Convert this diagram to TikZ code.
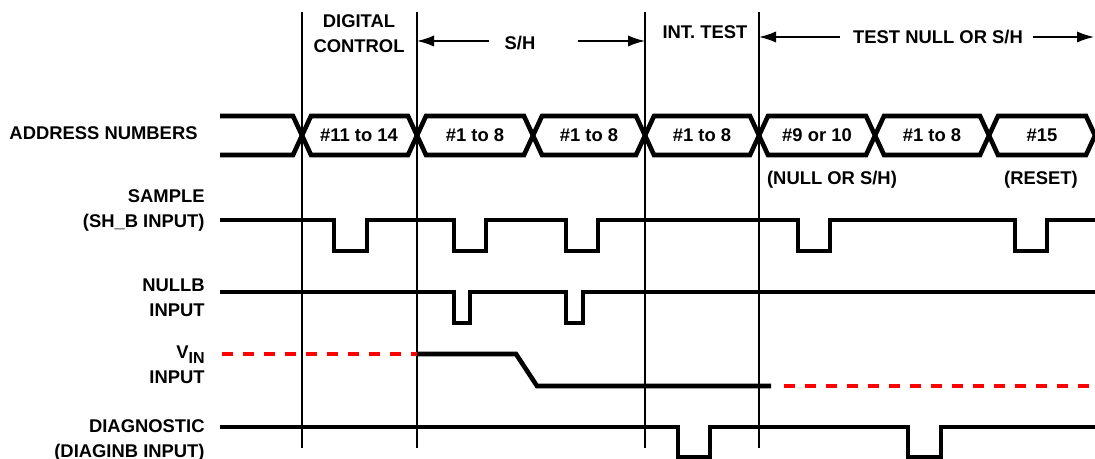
\documentclass[tikz,border=0pt]{standalone}
\usepackage{fontspec}
\setmainfont{Liberation Sans}
\usetikzlibrary{arrows.meta, positioning}

\tikzset{
  lbl/.style={font=\fontsize{9.2}{12.5}\selectfont\bfseries, inner sep=0pt},
  sig/.style={line width=2.3pt, line join=miter},
  divider/.style={line width=0.75pt},
  hdrarrow/.style={line width=0.8pt, -{Latex[length=8.5pt,width=5.6pt]}},
  undef/.style={line width=2.3pt, red, dash pattern=on 5.5pt off 5pt},
}

\begin{document}
\begin{tikzpicture}[x=0.5pt,y=-0.5pt]
\useasboundingbox (0,0) rectangle (1095,459);
%Phase dividers:
\foreach \n/\x in {1/302,2/417,3/645,4/759} {
  \coordinate (v\n t) at (\x,12);
  \coordinate (v\n b) at (\x,448);
  \draw[divider] (v\n t) -- (v\n b);
}
%Phase headings:
\node (digctl) [lbl, align=center] at (359,34) {DIGITAL\\CONTROL};
\node (sh) [lbl] at (520,43) {S/H};
\node (inttest) [lbl] at (705,32) {INT. TEST};
\node (tnull) [lbl] at (938,37) {TEST NULL OR S/H};
\coordinate (shl) at (489,41);
\coordinate (shr) at (578,41);
\coordinate (tnl) at (840,37);
\coordinate (tnr) at (1033,37);
\coordinate (edge) at (1094,37);
\draw[hdrarrow] (shl) -- (v2t |- shl);
\draw[hdrarrow] (shr) -- (v3t |- shr);
\draw[hdrarrow] (tnl) -- (v4t |- tnl);
\draw[hdrarrow] (tnr) -- (edge);
%Row labels:
\node (addrlbl) [lbl, anchor=east] at (198,133) {ADDRESS NUMBERS};
\node (samplbl) [lbl, anchor=east, align=right] at (205,210) {SAMPLE\\(SH\_B INPUT)};
\node (nulllbl) [lbl, anchor=east, align=right] at (205,298) {NULLB\\INPUT};
\node (vinlbl) [lbl, anchor=east, align=right] at (205,365) {V\raisebox{-0.45ex}{\fontsize{8}{8}\selectfont IN}\\INPUT};
\node (diaglbl) [lbl, anchor=east, align=right] at (205,440) {DIAGNOSTIC\\(DIAGINB INPUT)};
%Address bus:
\draw[sig] (220,116) -- (293,116) -- (311,155) -- (408,155) -- (426,116) -- (524,116) -- (542,155)
  -- (636,155) -- (654,116) -- (750,116) -- (768,155) -- (866,155) -- (884,116) -- (980,116)
  -- (998,155) -- (1086,155) -- (1104,116);
\draw[sig] (220,155) -- (293,155) -- (311,116) -- (408,116) -- (426,155) -- (524,155) -- (542,116)
  -- (636,116) -- (654,155) -- (750,155) -- (768,116) -- (866,116) -- (884,155) -- (980,155)
  -- (998,116) -- (1086,116) -- (1104,155);
\node (adr1) [lbl] at (359,135.5) {\#11 to 14};
\node (adr2) [lbl] at (475,135.5) {\#1 to 8};
\node (adr3) [lbl] at (589,135.5) {\#1 to 8};
\node (adr4) [lbl] at (702,135.5) {\#1 to 8};
\node (adr5) [lbl] at (817,135.5) {\#9 or 10};
\node (adr6) [lbl] at (932,135.5) {\#1 to 8};
\node (adr7) [lbl] at (1042,135.5) {\#15};
\node (nullsh) [lbl] at (832,180) {(NULL OR S/H)};
\node (reset) [lbl] at (1041,180) {(RESET)};
%Sample:
\draw[sig] (220,220) -- (334,220) -- (334,251) -- (367,251) -- (367,220) -- (454,220) -- (454,251)
  -- (486,251) -- (486,220) -- (566,220) -- (566,251) -- (598,251) -- (598,220) -- (798,220)
  -- (798,251) -- (830,251) -- (830,220) -- (1015,220) -- (1015,251) -- (1047,251) -- (1047,220)
  -- (1095,220);
%Nullb:
\draw[sig] (220,292) -- (454,292) -- (454,323) -- (470,323) -- (470,292) -- (566,292) -- (566,323)
  -- (583,323) -- (583,292) -- (1095,292);
%Vin:
\draw[undef] (222,354) -- (417,354);
\draw[sig] (417,354) -- (516,354) -- (537,386) -- (771,386);
\draw[undef] (784,386) -- (1090,386);
%Diagnostic:
\draw[sig] (220,427) -- (678,427) -- (678,457) -- (710,457) -- (710,427) -- (908,427) -- (908,457)
  -- (941,457) -- (941,427) -- (1095,427);
\end{tikzpicture}
\end{document}
